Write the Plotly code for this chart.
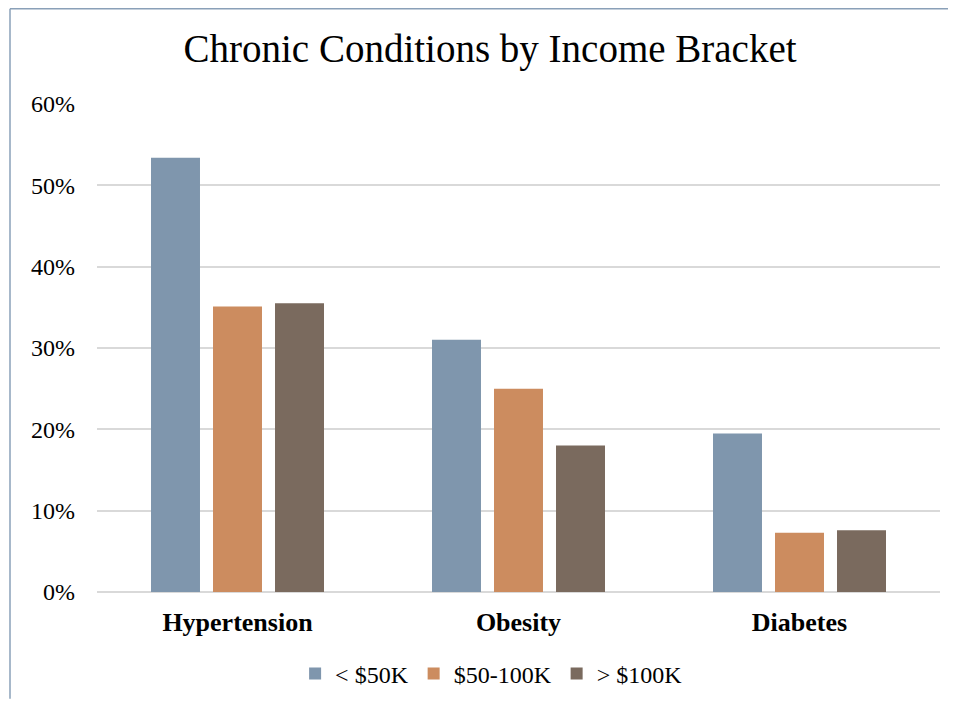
import plotly.graph_objects as go

categories = ["Hypertension", "Obesity", "Diabetes"]
series_names = ["< $50K", "$50-100K", "> $100K"]
low_income = [0.534, 0.310, 0.195]
mid_income = [0.351, 0.250, 0.073]
high_income = [0.355, 0.180, 0.076]
colors = ["#7F96AD", "#CC8C5F", "#7A6A5E"]
tick_vals = [0, 0.1, 0.2, 0.3, 0.4, 0.5, 0.6]
tick_text = ["0%", "10%", "20%", "30%", "40%", "50%", "60%"]

fig = go.Figure()
for name, vals, col in zip(series_names, [low_income, mid_income, high_income], colors):
    fig.add_trace(go.Bar(x=categories, y=vals, name=name, marker=dict(color=col, line=dict(width=0))))

serif = "Liberation Serif"
fig.update_layout(
    width=940, height=691,
    margin=dict(l=89, r=8, t=96, b=107, autoexpand=False),
    paper_bgcolor="white", plot_bgcolor="white",
    title=dict(text="Chronic Conditions by Income Bracket", x=0.5128, xanchor="center",
               xref="container", y=0.942, yanchor="middle",
               font=dict(family=serif, size=39, color="#000000")),
    barmode="group", bargap=0.338, bargroupgap=0.21,
    showlegend=True,
    legend=dict(orientation="h", x=0.235, xanchor="left", y=-0.168, yanchor="middle",
                font=dict(family=serif, size=24, color="#000000"), traceorder="normal",
                itemwidth=30),
    xaxis=dict(showgrid=False, showline=False, ticks="", ticklabelstandoff=12, automargin=False,
               tickfont=dict(family=serif, size=26, color="#000000", weight="bold")),
    yaxis=dict(range=[0, 0.6], tickvals=tick_vals, ticktext=tick_text, automargin=False,
               showgrid=True, gridcolor="#D9D9D9", gridwidth=1.5,
               zeroline=True, zerolinecolor="#D9D9D9", zerolinewidth=1.5,
               showline=False, ticks="", ticklabelstandoff=21,
               tickfont=dict(family=serif, size=24, color="#000000")),
    shapes=[
        dict(type="line", xref="paper", yref="paper", x0=-0.1032, x1=1.0095, y0=1.1952, y1=1.1952,
             line=dict(color="#8AA0B8", width=1.5)),
        dict(type="line", xref="paper", yref="paper", x0=-0.1032, x1=-0.1032, y0=-0.219, y1=1.1952,
             line=dict(color="#8AA0B8", width=1.5)),
    ],
)
fig.write_html("out.html")
